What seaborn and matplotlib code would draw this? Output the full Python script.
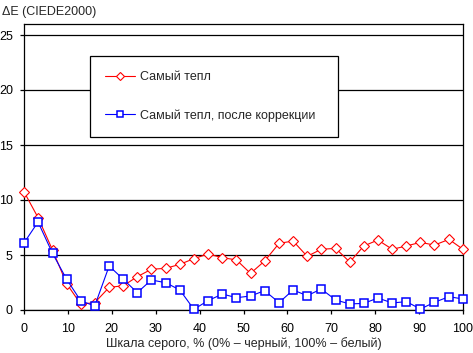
import numpy as np
import pandas as pd
import matplotlib
matplotlib.use("Agg")
import matplotlib.pyplot as plt
import seaborn as sns

# шкала серого, %
gray_levels = [0, 3.2, 6.5, 9.7, 12.9, 16.1, 19.4, 22.6, 25.8, 29.0, 32.3, 35.5,
               38.7, 41.9, 45.2, 48.4, 51.6, 54.8, 58.1, 61.3, 64.5, 67.7, 71.0,
               74.2, 77.4, 80.6, 83.9, 87.1, 90.3, 93.5, 96.8, 100]

# ΔE до коррекции
warmest = [10.75, 8.4, 5.45, 2.4, 0.55, 0.66, 2.06, 2.2, 3.03, 3.7, 3.79, 4.15,
           4.67, 5.09, 4.76, 4.55, 3.33, 4.45, 6.06, 6.27, 4.88, 5.52, 5.6,
           4.36, 5.82, 6.36, 5.52, 5.82, 6.15, 5.9, 6.42, 5.52]

# ΔE после коррекции
warmest_corr = [6.1, 8.0, 5.15, 2.8, 0.85, 0.36, 4.0, 2.8, 1.58, 2.73, 2.48, 1.82,
                0.06, 0.85, 1.45, 1.12, 1.27, 1.76, 0.67, 1.82, 1.3, 1.91, 0.91,
                0.55, 0.6, 1.09, 0.64, 0.76, 0.09, 0.7, 1.21, 1.0]

label_a = "Самый тепл"
label_b = "Самый тепл, после коррекции"

sns.set_style("white")
plt.rcParams["font.family"] = ["Liberation Sans", "DejaVu Sans"]
plt.rcParams["font.size"] = 9

fig = plt.figure(figsize=(4.73, 3.53), dpi=100)
ax = fig.add_axes([24 / 473, 43 / 353, 439 / 473, 286 / 353])

sns.lineplot(x=gray_levels, y=warmest, ax=ax, color="red", linewidth=0.8,
             marker="D", markersize=5.5, markerfacecolor="white",
             markeredgecolor="red", markeredgewidth=0.8, label=label_a,
             zorder=3, clip_on=False)
sns.lineplot(x=gray_levels, y=warmest_corr, ax=ax, color="blue", linewidth=0.8,
             marker="s", markersize=6, markerfacecolor="white",
             markeredgecolor="blue", markeredgewidth=1.1, label=label_b,
             zorder=4, clip_on=False)

ax.set_xlim(0, 100)
ax.set_ylim(0, 26)
ax.set_xticks(np.arange(0, 101, 10))
ax.set_yticks(np.arange(0, 26, 5))
ax.yaxis.grid(True, color="black", linewidth=0.9)
ax.xaxis.grid(False)
for s in ax.spines.values():
    s.set_color("black")
    s.set_linewidth(0.9)
ax.tick_params(axis="both", direction="out", length=3, width=0.9, color="black",
               labelsize=9, labelcolor="black")
ax.tick_params(axis="y", left=True, pad=5)
ax.tick_params(axis="x", bottom=True, pad=6)

ax.set_xlabel("Шкала серого, % (0% – черный, 100% – белый)", fontsize=9, labelpad=2)
ax.set_ylabel("")
fig.text(2 / 473, 1 - 12 / 353, "ΔE (CIEDE2000)", fontsize=9, va="center", ha="left")

leg = ax.legend(loc="upper left", bbox_to_anchor=(0.150, 0.605, 0.565, 0.283),
                mode="expand", fancybox=False, framealpha=1, edgecolor="black",
                borderpad=1.2, labelspacing=2.1, handlelength=2.4,
                handletextpad=0.4, fontsize=9, borderaxespad=0, markerscale=0.75)
leg.get_frame().set_linewidth(0.9)
leg.set_zorder(10)

fig.savefig("out.png", dpi=100)
